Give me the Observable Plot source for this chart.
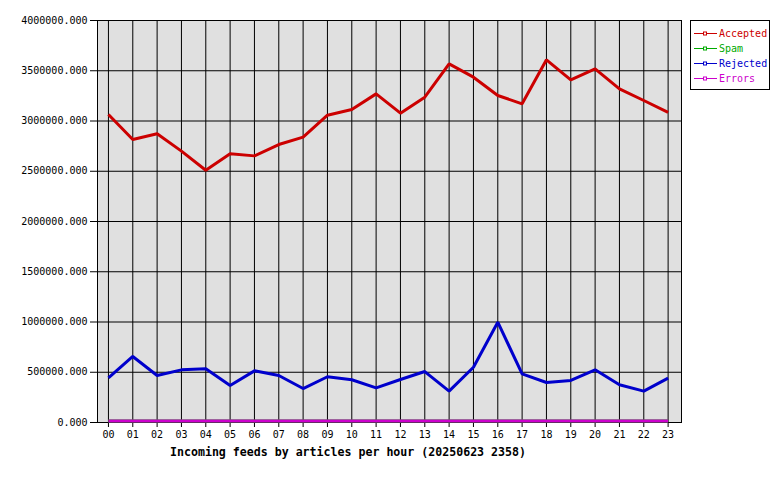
<!DOCTYPE html>
<html>
<head>
<meta charset="utf-8">
<script src="https://cdn.jsdelivr.net/npm/d3@7"></script>
<script src="https://cdn.jsdelivr.net/npm/@observablehq/plot@0.6"></script>
<style>
  html, body { margin: 0; padding: 0; background: #fff; }
  #wrap { position: relative; width: 780px; height: 480px; }
  #legend { position: absolute; left: 690px; top: 20px; width: 78px; height: 68px;
            border: 1px solid #000; background: #fff; font: 10px "DejaVu Sans Mono", monospace; }
  #legend .row { position: absolute; left: 3px; height: 12px; display: flex; align-items: center; }
  #legend .row span { margin-left: 1px; }
  #title { position: absolute; left: 170px; top: 445px; font: bold 11.6px "DejaVu Sans Mono", monospace; color: #000; white-space: nowrap; }
</style>
</head>
<body>
<div id="wrap"></div>
<script>
const hours = ["00","01","02","03","04","05","06","07","08","09","10","11","12","13","14","15","16","17","18","19","20","21","22","23"];
const seriesNames = ["Accepted", "Spam", "Rejected", "Errors"];
const seriesColors = ["#cc0000", "#00aa00", "#0000cc", "#cc00cc"];
const accepted = [3065000, 2816000, 2873000, 2700000, 2510000, 2673000, 2653000, 2766000, 2840000, 3058000, 3114000, 3270000, 3078000, 3237000, 3569000, 3436000, 3254000, 3171000, 3609000, 3410000, 3519000, 3320000, 3204000, 3085000];
const spam = [0,0,0,0,0,0,0,0,0,0,0,0,0,0,0,0,0,0,0,0,0,0,0,0];
const rejected = [445000, 657000, 468000, 524000, 534000, 368000, 514000, 468000, 338000, 455000, 425000, 345000, 428000, 507000, 312000, 550000, 998000, 484000, 398000, 418000, 524000, 375000, 312000, 441000];
const errors = [0,0,0,0,0,0,0,0,0,0,0,0,0,0,0,0,0,0,0,0,0,0,0,0];
const yTicks = [0, 500000, 1000000, 1500000, 2000000, 2500000, 3000000, 3500000, 4000000];
const titleText = "Incoming feeds by articles per hour (20250623 2358)";

const seriesValues = [accepted, spam, rejected, errors];
const rows = [];
seriesNames.forEach((name, s) => {
  seriesValues[s].forEach((v, i) => rows.push({series: name, hour: i, value: v, order: s}));
});
const idx = hours.map((h, i) => i);
// series that sit on the baseline are lifted just above the frame, as in the reference
const onBaseline = name => seriesValues[seriesNames.indexOf(name)].every(v => v === 0);

const lineOpts = { x: "hour", y: "value", z: "series", stroke: "series", strokeWidth: 3, strokeLinejoin: "miter", strokeLinecap: "butt" };

const plot = Plot.plot({
  width: 780,
  height: 480,
  marginLeft: 97,
  marginRight: 99,
  marginTop: 20,
  marginBottom: 58,
  style: { fontFamily: "'DejaVu Sans Mono', monospace", fontSize: "10px", color: "#000", background: "#fff" },
  x: { domain: [-0.45, 23.55] },
  y: { domain: [0, 4000000] },
  color: { domain: seriesNames, range: seriesColors },
  marks: [
    Plot.frame({ fill: "#e0e0e0" }),
    Plot.gridX(idx, { stroke: "#000", strokeOpacity: 1 }),
    Plot.gridY(yTicks, { stroke: "#000", strokeOpacity: 1 }),
    Plot.axisY(yTicks, { tickSize: 7, tickPadding: 3, tickFormat: d3.format(".3f"), label: null, stroke: "#000" }),
    Plot.axisX(idx, { tickSize: 5, tickPadding: 3, tickFormat: i => hours[i], label: null }),
    Plot.frame({ stroke: "#000" }),
    Plot.line(rows.filter(d => !onBaseline(d.series)), lineOpts),
    Plot.line(rows.filter(d => onBaseline(d.series)), { ...lineOpts, dy: -1.5 })
  ]
});
document.getElementById("wrap").appendChild(plot);

const title = document.createElement("div");
title.id = "title";
title.textContent = titleText;
document.getElementById("wrap").appendChild(title);

const legend = document.createElement("div");
legend.id = "legend";
seriesNames.forEach((name, s) => {
  const row = document.createElement("div");
  row.className = "row";
  row.style.top = (6 + s * 15) + "px";
  row.innerHTML = `<svg width="24" height="12"><line x1="0" y1="6.5" x2="23" y2="6.5" stroke="${seriesColors[s]}" stroke-width="1"/><rect x="9.5" y="5" width="3" height="3" fill="#fff" stroke="${seriesColors[s]}" stroke-width="1"/></svg><span style="color:${seriesColors[s]}">${name}</span>`;
  legend.appendChild(row);
});
document.getElementById("wrap").appendChild(legend);
</script>
</body>
</html>
